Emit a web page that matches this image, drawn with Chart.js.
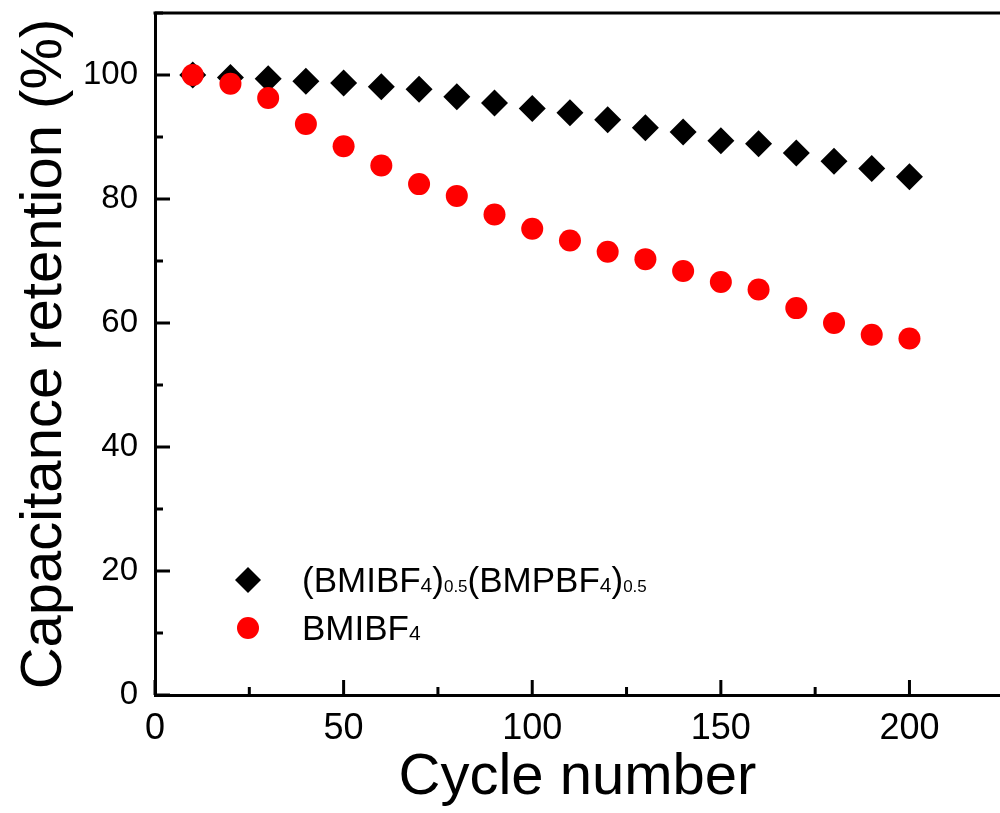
<!DOCTYPE html>
<html>
<head>
<meta charset="utf-8">
<script src="https://cdn.jsdelivr.net/npm/chart.js@4"></script>
<style>
  html, body { margin: 0; padding: 0; background: #fff; overflow: hidden; }
  #wrap { width: 1000px; height: 813px; }
  canvas { display: block; }
</style>
</head>
<body>
<div id="wrap"><canvas id="myChart" width="1000" height="813"></canvas></div>
<script>
// data
const cycles = [10, 20, 30, 40, 50, 60, 70, 80, 90, 100, 110, 120, 130, 140, 150, 160, 170, 180, 190, 200];
const mixedRetention = [100, 99.6, 99.4, 99.0, 98.7, 98.1, 97.7, 96.5, 95.5, 94.6, 93.9, 92.8, 91.5, 90.8, 89.4, 88.9, 87.4, 86.1, 84.9, 83.6];
const bmiRetention = [100, 98.6, 96.3, 92.1, 88.5, 85.4, 82.4, 80.5, 77.5, 75.2, 73.3, 71.5, 70.3, 68.4, 66.6, 65.4, 62.4, 60.0, 58.1, 57.5];

// legend labels, split into [text, isSubscript] parts
const mixedLabel = [['(BMIBF', false], ['4', true], [')', false], ['0.5', true], ['(BMPBF', false], ['4', true], [')', false], ['0.5', true]];
const bmiLabel = [['BMIBF', false], ['4', true]];

const xTicks = [0, 50, 100, 150, 200];
const yTicks = [0, 20, 40, 60, 80, 100];

const FONT = '"Liberation Sans", Arial, sans-serif';

function toPoints(xs, ys) {
    return xs.map((x, i) => ({ x: x, y: ys[i] }));
}

// inward ticks + top frame line
const frameTicks = {
    id: 'frameTicks',
    afterDraw(chart) {
        const ctx = chart.ctx;
        const area = chart.chartArea;
        const xs = chart.scales.x;
        const ys = chart.scales.y;
        ctx.save();
        ctx.strokeStyle = '#000';
        ctx.lineWidth = 3;
        ctx.beginPath();
        ctx.moveTo(area.left - 1.5, area.top);
        ctx.lineTo(area.right, area.top);
        ctx.stroke();

        for (let v = 0; v <= xs.max; v += 25) {
            const px = xs.getPixelForValue(v);
            const len = v % 50 === 0 ? 15 : 8;
            ctx.beginPath();
            ctx.moveTo(px, area.bottom);
            ctx.lineTo(px, area.bottom - len);
            ctx.stroke();
        }
        for (let v = 0; v <= ys.max; v += 10) {
            const py = ys.getPixelForValue(v);
            const len = v % 20 === 0 ? 15 : 8;
            ctx.beginPath();
            ctx.moveTo(area.left, py);
            ctx.lineTo(area.left + len, py);
            ctx.stroke();
        }
        ctx.restore();
    }
};

// legend with subscripts, drawn inside the plot
function drawLabel(ctx, parts, x, y) {
    let cx = x;
    parts.forEach(([text, sub]) => {
        let size = 35;
        if (sub) size = text.length > 1 ? 17 : 21;
        ctx.font = size + 'px ' + FONT;
        ctx.fillText(text, cx, y);
        cx += ctx.measureText(text).width;
    });
}

const subLegend = {
    id: 'subLegend',
    afterDraw(chart) {
        const ctx = chart.ctx;
        ctx.save();
        ctx.fillStyle = '#000';
        // diamond
        const dx = 248, dy = 580, r = 13;
        ctx.beginPath();
        ctx.moveTo(dx, dy - r);
        ctx.lineTo(dx + r, dy);
        ctx.lineTo(dx, dy + r);
        ctx.lineTo(dx - r, dy);
        ctx.closePath();
        ctx.fill();
        // circle
        ctx.fillStyle = '#ff0000';
        ctx.beginPath();
        ctx.arc(248, 628, 11, 0, Math.PI * 2);
        ctx.fill();

        ctx.fillStyle = '#000';
        ctx.textBaseline = 'alphabetic';
        drawLabel(ctx, mixedLabel, 302, 592);
        drawLabel(ctx, bmiLabel, 302, 640);
        ctx.restore();
    }
};

const ctx = document.getElementById('myChart').getContext('2d');
new Chart(ctx, {
    type: 'scatter',
    data: {
        datasets: [
            {
                label: 'BMIBF4',
                data: toPoints(cycles, bmiRetention),
                pointStyle: 'circle',
                pointRadius: 11,
                pointHoverRadius: 11,
                pointBorderWidth: 0,
                backgroundColor: '#ff0000',
                borderColor: '#ff0000',
                order: 0
            },
            {
                label: '(BMIBF4)0.5(BMPBF4)0.5',
                data: toPoints(cycles, mixedRetention),
                pointStyle: 'rectRot',
                pointRadius: 13.5,
                pointHoverRadius: 13.5,
                pointBorderWidth: 0,
                backgroundColor: '#000',
                borderColor: '#000',
                order: 1
            }
        ]
    },
    options: {
        responsive: false,
        animation: false,
        layout: { autoPadding: false, padding: { left: 0, top: 13, right: 0, bottom: 0 } },
        plugins: {
            legend: { display: false },
            tooltip: { enabled: false }
        },
        scales: {
            x: {
                type: 'linear',
                min: 0,
                max: 224,
                afterFit(scale) {
                    scale.height = 118;
                    scale.paddingLeft = 0;
                    scale.paddingRight = 0;
                },
                afterBuildTicks(scale) { scale.ticks = xTicks.map(v => ({ value: v })); },
                grid: { display: false, drawTicks: false },
                border: { display: true, color: '#000', width: 3 },
                ticks: {
                    color: '#000',
                    padding: 12,
                    maxRotation: 0,
                    font: { family: FONT, size: 36 }
                },
                title: {
                    display: true,
                    text: 'Cycle number',
                    color: '#000',
                    padding: { top: 0, bottom: 0 },
                    font: { family: FONT, size: 58 }
                }
            },
            y: {
                type: 'linear',
                min: 0,
                max: 110,
                afterFit(scale) {
                    scale.width = 155;
                    scale.paddingTop = 0;
                    scale.paddingBottom = 0;
                },
                afterBuildTicks(scale) { scale.ticks = yTicks.map(v => ({ value: v })); },
                grid: { display: false, drawTicks: false },
                border: { display: true, color: '#000', width: 3 },
                ticks: {
                    color: '#000',
                    padding: 17,
                    font: { family: FONT, size: 33 }
                },
                title: {
                    display: true,
                    text: 'Capacitance retention (%)',
                    color: '#000',
                    padding: { top: 10, bottom: 0 },
                    font: { family: FONT, size: 58 }
                }
            }
        }
    },
    plugins: [frameTicks, subLegend]
});
</script>
</body>
</html>
